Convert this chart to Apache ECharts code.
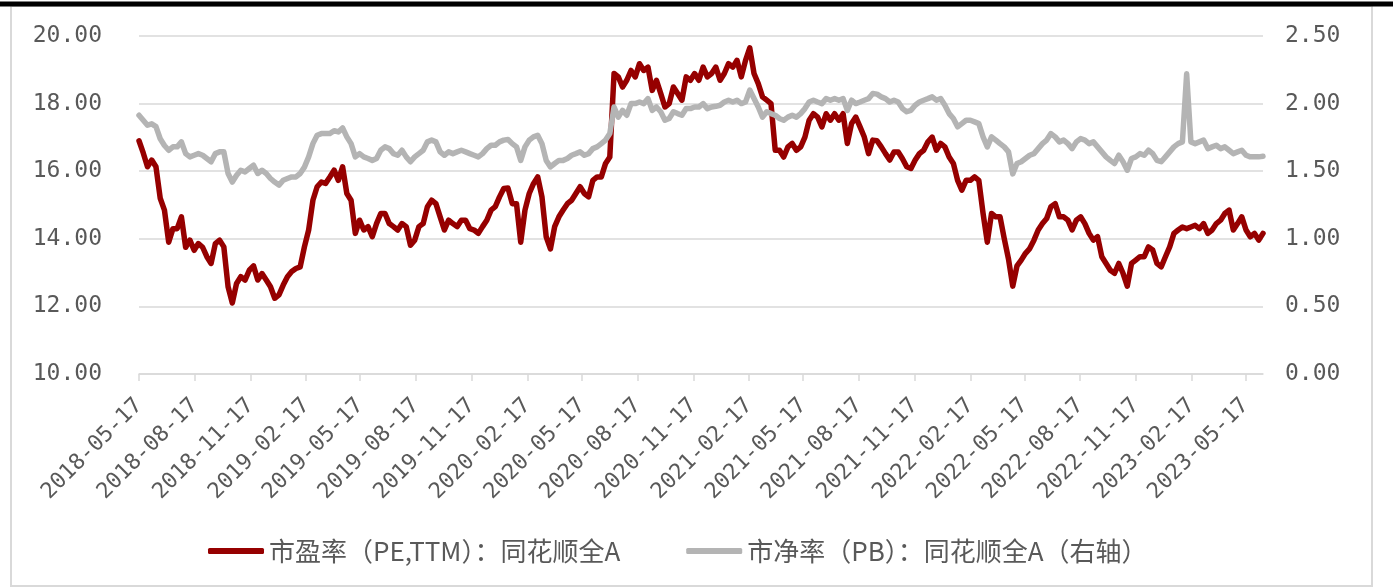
<!DOCTYPE html>
<html lang="zh">
<head>
<meta charset="utf-8">
<script src="https://cdn.jsdelivr.net/npm/echarts@6/dist/echarts.min.js"></script>
<style>
    html, body { margin: 0; padding: 0; background: #fff; }
    #chart { width: 1398px; height: 587px; }
</style>
</head>
<body>
<div id="chart"></div>
<script>
    var startDate = '2018-05-17';
    var endDate = '2023-06-15';
    var stepDays = 7;   // one reading per week

    var tickLabels = [
        '2018-05-17', '2018-08-17', '2018-11-17',
        '2019-02-17', '2019-05-17', '2019-08-17', '2019-11-17',
        '2020-02-17', '2020-05-17', '2020-08-17', '2020-11-17',
        '2021-02-17', '2021-05-17', '2021-08-17', '2021-11-17',
        '2022-02-17', '2022-05-17', '2022-08-17', '2022-11-17',
        '2023-02-17', '2023-05-17'
    ];

    var peName = '市盈率（PE,TTM）：同花顺全A';
    var pbName = '市净率（PB）：同花顺全A（右轴）';

    var peValues = [
        16.90, 16.54, 16.13, 16.33, 16.13, 15.20, 14.85, 13.90, 14.30, 14.30,
        14.65, 13.75, 13.96, 13.66, 13.86, 13.75, 13.47, 13.27, 13.86, 13.96,
        13.76, 12.58, 12.10, 12.68, 12.88, 12.78, 13.07, 13.20, 12.78, 12.97,
        12.78, 12.58, 12.24, 12.34, 12.63, 12.88, 13.03, 13.12, 13.17, 13.76,
        14.26, 15.14, 15.54, 15.68,
        15.64, 15.83, 16.03, 15.73, 16.13, 15.34, 15.14, 14.16, 14.55, 14.26,
        14.36, 14.06, 14.45, 14.75, 14.75, 14.45, 14.36, 14.26, 14.45, 14.36,
        13.81, 13.96, 14.36, 14.45, 14.95, 15.14, 15.04, 14.65, 14.26, 14.55,
        14.45, 14.36, 14.55, 14.55, 14.30, 14.26, 14.16, 14.36, 14.55, 14.85,
        14.95, 15.24, 15.49, 15.50,
        15.04, 15.04, 13.90, 14.85, 15.34, 15.63, 15.83, 15.24, 14.06, 13.70,
        14.36, 14.65, 14.85, 15.04, 15.14, 15.34, 15.54, 15.34, 15.24, 15.73,
        15.83, 15.83, 16.23, 16.42, 18.89, 18.79, 18.49, 18.69, 18.98, 18.79,
        19.18, 18.98, 19.08, 18.39, 18.69, 18.30, 17.90, 18.00, 18.49, 18.30,
        18.10, 18.79, 18.69, 18.89,
        18.69, 19.08, 18.79, 18.89, 19.08, 18.69, 18.89, 19.18, 19.08, 19.28,
        18.79, 19.28, 19.65, 18.89, 18.59, 18.20, 18.10, 18.00, 16.62, 16.62,
        16.42, 16.72, 16.82, 16.62, 16.72, 17.01, 17.51, 17.70, 17.60, 17.31,
        17.70, 17.51, 17.70, 17.51, 17.70, 16.82, 17.41, 17.60, 17.31, 17.01,
        16.52, 16.92, 16.90, 16.72,
        16.52, 16.33, 16.57, 16.57, 16.37, 16.13, 16.08, 16.33, 16.52, 16.62,
        16.87, 17.01, 16.62, 16.82, 16.72, 16.42, 16.23, 15.73, 15.44, 15.73,
        15.73, 15.83, 15.73, 14.75, 13.90, 14.75, 14.65, 14.65, 14.00, 13.40,
        12.60, 13.20, 13.37, 13.57, 13.71, 13.96, 14.26, 14.45, 14.60, 14.95,
        15.04, 14.65,
        14.65, 14.55, 14.26, 14.55, 14.65, 14.45, 14.16, 13.96, 14.06, 13.47,
        13.27, 13.07, 12.98, 13.27, 12.98, 12.60, 13.27, 13.37, 13.47, 13.47,
        13.76, 13.67, 13.27, 13.17, 13.47, 13.76, 14.16, 14.26, 14.35, 14.30,
        14.35, 14.40, 14.30, 14.45, 14.16, 14.26, 14.45, 14.55, 14.75, 14.85,
        14.26, 14.45, 14.65, 14.26, 14.06, 14.16, 13.96, 14.16
    ];

    var pbValues = [
        1.914, 1.877, 1.840, 1.850, 1.830, 1.740, 1.690, 1.655, 1.680, 1.680,
        1.717, 1.630, 1.606, 1.618, 1.630, 1.618, 1.594, 1.570, 1.630, 1.643,
        1.643, 1.483, 1.420, 1.470, 1.507, 1.495, 1.520, 1.544, 1.483, 1.507,
        1.483, 1.446, 1.420, 1.397, 1.433, 1.446, 1.458, 1.458, 1.483, 1.530,
        1.606, 1.704, 1.766, 1.778,
        1.778, 1.778, 1.800, 1.790, 1.820, 1.754, 1.704, 1.606, 1.630, 1.606,
        1.594, 1.580, 1.594, 1.655, 1.680, 1.667, 1.630, 1.618, 1.655, 1.606,
        1.570, 1.606, 1.630, 1.655, 1.717, 1.730, 1.717, 1.643, 1.618, 1.643,
        1.630, 1.643, 1.655, 1.643, 1.630, 1.618, 1.606, 1.630, 1.667, 1.692,
        1.692, 1.717, 1.730, 1.735,
        1.704, 1.680, 1.580, 1.680, 1.730, 1.754, 1.766, 1.704, 1.580, 1.532,
        1.557, 1.580, 1.580, 1.594, 1.618, 1.630, 1.643, 1.618, 1.630, 1.667,
        1.680, 1.704, 1.730, 1.778, 1.975, 1.900, 1.950, 1.914, 2.000, 2.000,
        2.012, 2.000, 2.037, 1.950, 1.975, 1.940, 1.877, 1.890, 1.940, 1.926,
        1.914, 1.963, 1.963, 1.975,
        1.975, 2.000, 1.963, 1.975, 1.980, 1.988, 2.012, 2.025, 2.012, 2.025,
        2.000, 2.012, 2.100, 2.037, 1.975, 1.900, 1.940, 1.926, 1.914, 1.890,
        1.877, 1.900, 1.914, 1.900, 1.926, 1.963, 2.012, 2.025, 2.012, 2.000,
        2.037, 2.025, 2.037, 2.025, 2.037, 1.950, 2.025, 2.000, 2.012, 2.025,
        2.037, 2.074, 2.070, 2.050,
        2.037, 2.012, 2.025, 2.012, 1.963, 1.940, 1.950, 1.988, 2.012, 2.025,
        2.037, 2.050, 2.025, 2.037, 1.988, 1.926, 1.890, 1.828, 1.852, 1.877,
        1.877, 1.865, 1.852, 1.754, 1.680, 1.754, 1.730, 1.704, 1.680, 1.643,
        1.480, 1.557, 1.570, 1.594, 1.618, 1.630, 1.667, 1.704, 1.730, 1.778,
        1.754, 1.717,
        1.730, 1.704, 1.667, 1.717, 1.741, 1.730, 1.704, 1.717, 1.680, 1.643,
        1.606, 1.580, 1.557, 1.618, 1.570, 1.507, 1.594, 1.606, 1.630, 1.618,
        1.655, 1.630, 1.580, 1.570, 1.606, 1.643, 1.680, 1.704, 1.717, 2.220,
        1.717, 1.704, 1.717, 1.730, 1.667, 1.680, 1.692, 1.667, 1.680, 1.655,
        1.630, 1.643, 1.655, 1.618, 1.606, 1.606, 1.606, 1.610
    ];

    // daily calendar for the date axis
    var days = [];
    var t0 = Date.parse(startDate + 'T00:00:00Z');
    var t1 = Date.parse(endDate + 'T00:00:00Z');
    for (var t = t0; t <= t1; t += 86400000) {
        days.push(new Date(t).toISOString().slice(0, 10));
    }

    function toPairs(values) {
        return values.map(function (v, i) { return [days[i * stepDays], v]; });
    }

    function isTick(index, value) {
        return tickLabels.indexOf(value) >= 0;
    }

    var gray = '#595959';
    var gridColor = '#d9d9d9';
    var numFont = 'DejaVu Sans Mono';

    var myChart = echarts.init(document.getElementById('chart'));

    var option = {
        animation: false,
        backgroundColor: '#fff',
        graphic: [
            { type: 'rect', shape: { x: 11, y: 6, width: 1361, height: 580 },
              style: { fill: 'none', stroke: gridColor, lineWidth: 2 }, silent: true },
            { type: 'rect', shape: { x: 0, y: 1.5, width: 1393, height: 5 },
              style: { fill: '#000' }, silent: true }
        ],
        grid: { left: 139, right: 135, top: 36, bottom: 213 },
        legend: {
            left: 203,
            top: 533,
            icon: 'roundRect',
            itemWidth: 56,
            itemHeight: 6,
            itemGap: 66,
            textStyle: { fontFamily: 'Noto Sans CJK SC', fontSize: 26, color: gray },
            data: [peName, pbName]
        },
        xAxis: {
            type: 'category',
            boundaryGap: false,
            data: days,
            axisLine: { lineStyle: { color: gridColor, width: 1.5 } },
            axisTick: { interval: isTick, length: 7, lineStyle: { color: gridColor, width: 1.5 } },
            axisLabel: {
                interval: isTick,
                rotate: 45,
                margin: 28,
                color: gray,
                fontFamily: numFont,
                fontSize: 22
            },
            splitLine: { show: false }
        },
        yAxis: [
            {
                type: 'value',
                min: 10, max: 20, interval: 2,
                axisLine: { show: false },
                axisTick: { show: false },
                axisLabel: {
                    margin: 37, color: gray, fontFamily: numFont, fontSize: 23,
                    formatter: function (v) { return v.toFixed(2); }
                },
                splitLine: { lineStyle: { color: gridColor, width: 1.5 } }
            },
            {
                type: 'value',
                min: 0, max: 2.5, interval: 0.5,
                axisLine: { show: false },
                axisTick: { show: false },
                axisLabel: {
                    margin: 22, color: gray, fontFamily: numFont, fontSize: 23,
                    formatter: function (v) { return v.toFixed(2); }
                },
                splitLine: { show: false }
            }
        ],
        series: [
            {
                name: peName,
                type: 'line',
                yAxisIndex: 0,
                symbol: 'none',
                color: '#960000',
                lineStyle: { width: 5.5, color: '#960000', join: 'round', cap: 'round' },
                data: toPairs(peValues)
            },
            {
                name: pbName,
                type: 'line',
                yAxisIndex: 1,
                symbol: 'none',
                color: '#b4b4b4',
                lineStyle: { width: 5.5, color: '#b4b4b4', join: 'round', cap: 'round' },
                data: toPairs(pbValues)
            }
        ]
    };

    myChart.setOption(option);
</script>
</body>
</html>
